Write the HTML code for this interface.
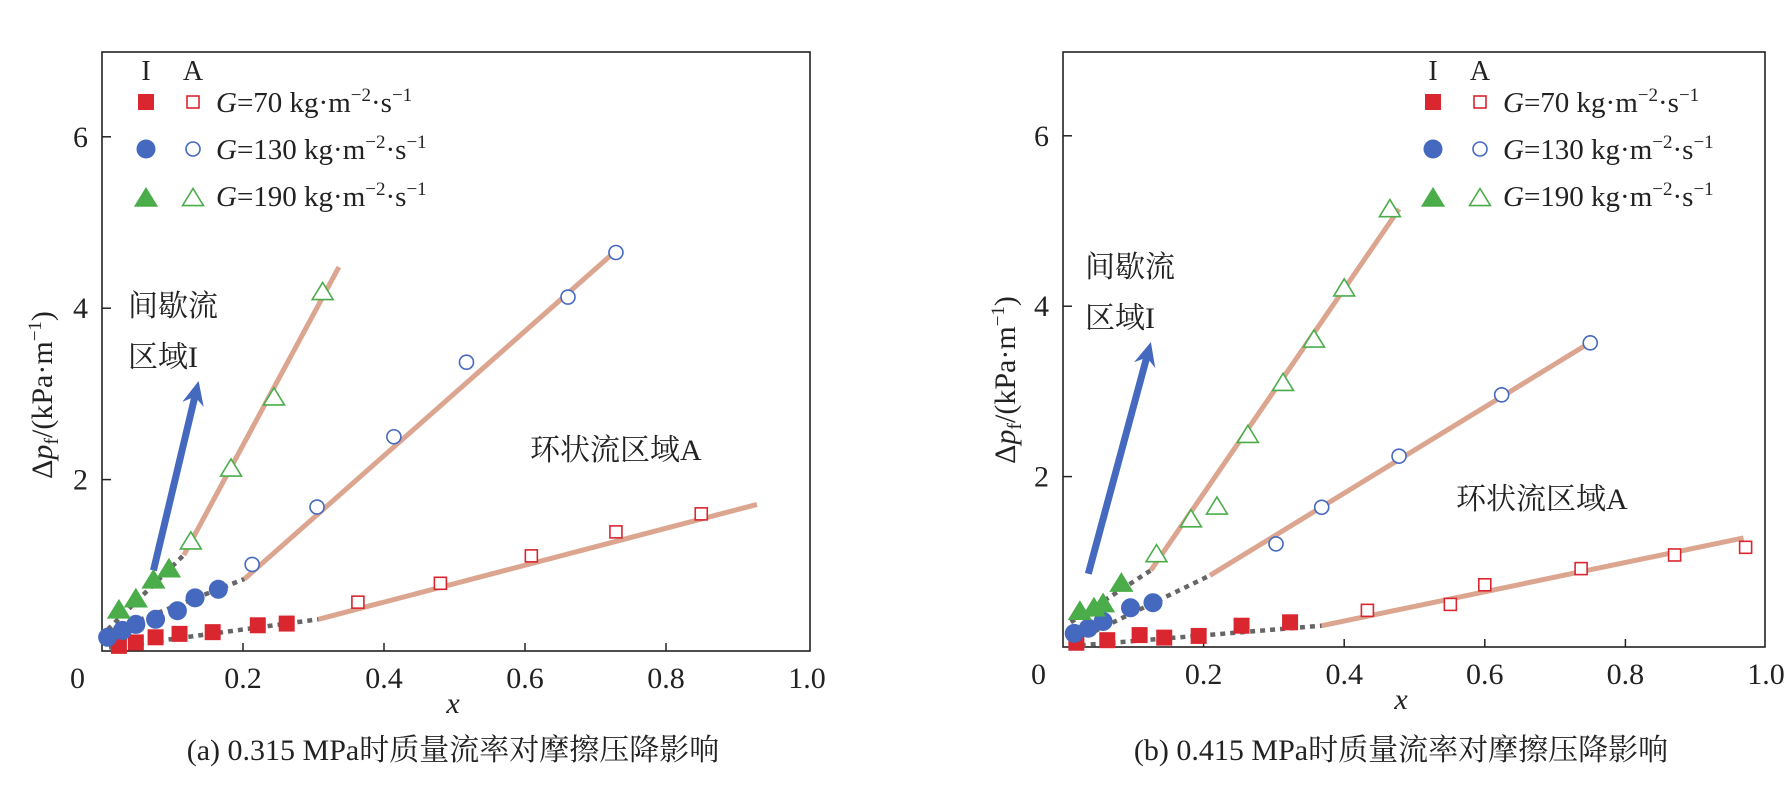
<!DOCTYPE html>
<html><head><meta charset="utf-8">
<style>
html,body{margin:0;padding:0;background:#fff;}
svg{display:block;font-family:"Liberation Serif","Noto Serif CJK SC",serif;}
</style></head>
<body>
<svg id="chart" width="1786" height="803" viewBox="0 0 1786 803" xmlns="http://www.w3.org/2000/svg"></svg>
<script>
// ---------- data: panel (a) 0.315 MPa ----------
const a_I70_x=[0.024,0.048,0.076,0.11,0.157,0.221,0.262];
const a_I70_y=[0.06,0.10,0.16,0.20,0.22,0.30,0.32];
const a_A70_x=[0.363,0.48,0.609,0.729,0.85];
const a_A70_y=[0.57,0.79,1.11,1.39,1.60];
const a_I130_x=[0.008,0.029,0.048,0.076,0.107,0.132,0.165];
const a_I130_y=[0.16,0.24,0.31,0.37,0.47,0.62,0.72];
const a_A130_x=[0.213,0.305,0.414,0.517,0.661,0.729];
const a_A130_y=[1.01,1.68,2.50,3.37,4.13,4.65];
const a_I190_x=[0.024,0.048,0.073,0.095];
const a_I190_y=[0.48,0.61,0.83,0.96];
const a_A190_x=[0.126,0.183,0.244,0.313];
const a_A190_y=[1.28,2.13,2.96,4.19];
const a_fit70=[[0.01,0.04],[0.307,0.37],[0.929,1.71]];
const a_fit130=[[0.0,0.19],[0.202,0.84],[0.729,4.67]];
const a_fit190=[[0.008,0.25],[0.116,1.12],[0.336,4.48]];
const a_arrow=[[0.073,0.94],[0.137,3.15]];
// ---------- data: panel (b) 0.415 MPa ----------
const b_I70_x=[0.019,0.063,0.109,0.144,0.193,0.254,0.323];
const b_I70_y=[0.05,0.08,0.14,0.11,0.13,0.25,0.29];
const b_A70_x=[0.433,0.551,0.60,0.737,0.87,0.971];
const b_A70_y=[0.43,0.50,0.73,0.92,1.08,1.17];
const b_I130_x=[0.016,0.036,0.057,0.096,0.128];
const b_I130_y=[0.16,0.22,0.30,0.46,0.52];
const b_A130_x=[0.303,0.368,0.478,0.624,0.75];
const b_A130_y=[1.21,1.64,2.24,2.96,3.57];
const b_I190_x=[0.024,0.044,0.057,0.083];
const b_I190_y=[0.42,0.46,0.51,0.75];
const b_A190_x=[0.133,0.182,0.219,0.263,0.313,0.357,0.40,0.465];
const b_A190_y=[1.09,1.50,1.65,2.49,3.10,3.61,4.21,5.14];
const b_fit70=[[0.011,0.01],[0.368,0.25],[0.968,1.28]];
const b_fit130=[[0.019,0.08],[0.209,0.84],[0.757,3.61]];
const b_fit190=[[0.011,0.29],[0.125,0.90],[0.478,5.14]];
const b_arrow=[[0.036,0.86],[0.125,3.58]];
const xTicks=[0.2,0.4,0.6,0.8,1.0];
const xTickLabels=["0.2","0.4","0.6","0.8","1.0"];
const yTicks=[2,4,6];
const yTickLabels=["2","4","6"];

const NS="http://www.w3.org/2000/svg";
const svg=document.getElementById('chart');
function el(tag,attrs,parent,text){
  const e=document.createElementNS(NS,tag);
  for(const k in attrs)e.setAttribute(k,attrs[k]);
  if(text!==undefined)e.textContent=text;
  (parent||svg).appendChild(e);return e;
}
const RED="#d9262f",BLUE="#4469be",GREEN="#4aad4a",FIT="#dba58f",DOT="#666";

function marker(g,kind,filled,cx,cy,color){
  let m;
  if(kind==='sq'){const s=filled?16:12;m=el('rect',{x:cx-s/2,y:cy-s/2,width:s,height:s},g);}
  else if(kind==='ci'){const r=filled?9.5:7;m=el('circle',{cx:cx,cy:cy,r:r},g);}
  else {const s=filled?11:9.5;m=el('polygon',{points:`${cx},${cy-s} ${cx-s*1.1},${cy+s*0.8} ${cx+s*1.1},${cy+s*0.8}`},g);}
  if(filled){m.setAttribute('fill',color);}else{m.setAttribute('fill','#fff');m.setAttribute('stroke',color);m.setAttribute('stroke-width','1.6');}
  return m;
}

function panel(id,P){
  const X=v=>P.x0+v*P.xs, Y=v=>P.y0-v*P.ys;
  const g=el('g',{},svg);
  
  
  const fr=el('rect',{x:P.x0,y:P.top,width:P.right-P.x0,height:P.y0-P.top,fill:'none',stroke:'#222','stroke-width':1.6},g);
  
  
  xTicks.forEach((t,i)=>{
    if(t<1) el('line',{x1:X(t),x2:X(t),y1:P.y0,y2:P.y0-8,stroke:'#222','stroke-width':1.5},g);
    const tl=el('text',{x:X(t),y:P.y0+37,'text-anchor':'middle','font-size':30,fill:'#222'},g,xTickLabels[i]);
    
    
  });
  const z=el('text',{x:P.x0-32,y:P.y0+37,'font-size':30,fill:'#222'},g,'0');
  
  
  yTicks.forEach((t,i)=>{
    el('line',{x1:P.x0,x2:P.x0+9,y1:Y(t),y2:Y(t),stroke:'#222','stroke-width':1.5},g);
    const tl=el('text',{x:P.x0-14,y:Y(t)+10,'text-anchor':'end','font-size':30,fill:'#222'},g,yTickLabels[i]);
    
    
  });
  const xt=el('text',{x:P.xl,y:P.y0+62,'text-anchor':'middle','font-size':30,'font-style':'italic',fill:'#222'},g,'x');
  
  
  const yt=el('text',{x:0,y:0,'text-anchor':'middle','font-size':30,fill:'#222',transform:`translate(${P.yl},${P.ylc}) rotate(-90)`},g);
  
  
  yt.innerHTML='Δ<tspan font-style="italic">p</tspan><tspan font-size="20" dy="6">f</tspan><tspan dy="-6">/(kPa·m</tspan><tspan font-size="19" dy="-11">−1</tspan><tspan dy="11">)</tspan>';
  [['70',P.fit70],['130',P.fit130],['190',P.fit190]].forEach(([n,f])=>{
    const d=el('line',{x1:X(f[0][0]),y1:Y(f[0][1]),x2:X(f[1][0]),y2:Y(f[1][1]),stroke:DOT,'stroke-width':4.5,'stroke-dasharray':'5 5'},g);
    
    
    const l=el('line',{x1:X(f[1][0]),y1:Y(f[1][1]),x2:X(f[2][0]),y2:Y(f[2][1]),stroke:FIT,'stroke-width':5},g);
    
    
  });
  const a=P.arrow,ax1=X(a[0][0]),ay1=Y(a[0][1]),ax2=X(a[1][0]),ay2=Y(a[1][1]);
  const ang=Math.atan2(ay2-ay1,ax2-ax1),ux=Math.cos(ang),uy=Math.sin(ang);
  const ar=el('g',{},g);
  
  
  el('line',{x1:ax1,y1:ay1,x2:ax2-ux*16,y2:ay2-uy*16,stroke:BLUE,'stroke-width':7},ar);
  el('polygon',{points:`${ax2},${ay2} ${ax2-ux*24-uy*11},${ay2-uy*24+ux*11} ${ax2-ux*16},${ay2-uy*16} ${ax2-ux*24+uy*11},${ay2-uy*24-ux*11}`,fill:BLUE},ar);
  const S=[['I70','sq',true,RED],['A70','sq',false,RED],['I130','ci',true,BLUE],['A130','ci',false,BLUE],['I190','tr',true,GREEN],['A190','tr',false,GREEN]];
  S.forEach(([k,kind,filled,c])=>{
    const xs=P[k+'_x'],ys=P[k+'_y'];
    xs.forEach((v,i)=>{
      const m=marker(g,kind,filled,X(v),Y(ys[i]),c);
      
      
    });
  });
  const t1=el('text',{x:P.t1[0],y:P.t1[1],'font-size':30,fill:'#222'},g,'间歇流');
  
  
  const t2=el('text',{x:P.t1[0],y:P.t1[1]+51,'font-size':30,fill:'#222'},g,'区域I');
  
  
  const t3=el('text',{x:P.t3[0],y:P.t3[1],'font-size':30,fill:'#222'},g,'环状流区域A');
  
  
  const lg=el('g',{},g);
  
  
  el('text',{x:P.lg[0],y:P.lg[1]-22,'text-anchor':'middle','font-size':28,fill:'#222'},lg,'I');
  el('text',{x:P.lg[0]+47,y:P.lg[1]-22,'text-anchor':'middle','font-size':28,fill:'#222'},lg,'A');
  [['sq',RED,'70'],['ci',BLUE,'130'],['tr',GREEN,'190']].forEach(([k,c,n],i)=>{
    const ry=P.lg[1]+i*47;
    const row=el('g',{},lg);
    
    
    marker(row,k,true,P.lg[0],ry+(k==='tr'?2:0),c);
    marker(row,k,false,P.lg[0]+47,ry+(k==='tr'?2:0),c);
    const t=el('text',{x:P.lg[0]+70,y:ry+10,'font-size':29,fill:'#222'},row);
    t.innerHTML='<tspan font-style="italic">G</tspan>='+n+' kg·m<tspan font-size="19" dy="-11">−2</tspan><tspan dy="11">·s</tspan><tspan font-size="19" dy="-11">−1</tspan>';
  });
  const cap=el('text',{x:P.xl,y:760,'text-anchor':'middle','font-size':30,fill:'#222'},g,P.cap);
  
  
}

panel('panel-a',{x0:102,xs:705,right:810,y0:651,ys:85.7,top:52,xl:453,yl:52,ylc:395,
  I70_x:a_I70_x,I70_y:a_I70_y,A70_x:a_A70_x,A70_y:a_A70_y,I130_x:a_I130_x,I130_y:a_I130_y,
  A130_x:a_A130_x,A130_y:a_A130_y,I190_x:a_I190_x,I190_y:a_I190_y,A190_x:a_A190_x,A190_y:a_A190_y,
  fit70:a_fit70,fit130:a_fit130,fit190:a_fit190,arrow:a_arrow,
  t1:[128,316],t3:[530,460],lg:[146,102],cap:'(a) 0.315 MPa时质量流率对摩擦压降影响'});
panel('panel-b',{x0:1063,xs:703,right:1765,y0:647,ys:85.2,top:52,xl:1401,yl:1015,ylc:380,
  I70_x:b_I70_x,I70_y:b_I70_y,A70_x:b_A70_x,A70_y:b_A70_y,I130_x:b_I130_x,I130_y:b_I130_y,
  A130_x:b_A130_x,A130_y:b_A130_y,I190_x:b_I190_x,I190_y:b_I190_y,A190_x:b_A190_x,A190_y:b_A190_y,
  fit70:b_fit70,fit130:b_fit130,fit190:b_fit190,arrow:b_arrow,
  t1:[1085,277],t3:[1456,509],lg:[1433,102],cap:'(b) 0.415 MPa时质量流率对摩擦压降影响'});
</script>
</body></html>
